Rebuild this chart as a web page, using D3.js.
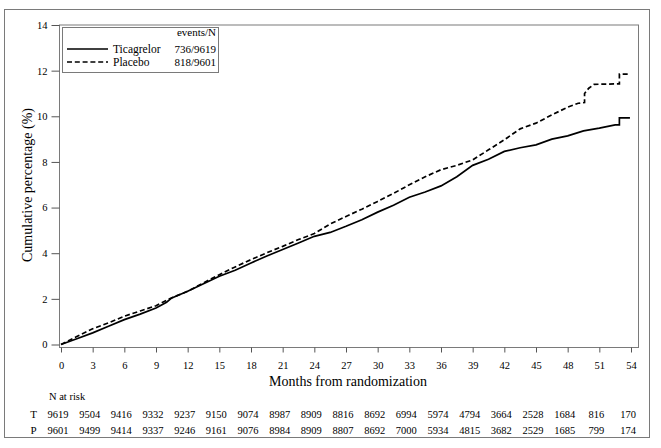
<!DOCTYPE html>
<html>
<head>
<meta charset="utf-8">
<script src="https://cdn.jsdelivr.net/npm/d3@7"></script>
<style>
  body { margin: 0; background: #fff; }
  svg { display: block; }
  text { font-family: "Liberation Serif", "Times New Roman", serif; }
</style>
</head>
<body>
<svg id="chart" width="661" height="448"></svg>
<script>
// cumulative percentage, [month, percent]
let ticagrelor = [
  [0, 0], [1.5, 0.25], [3, 0.51], [4.5, 0.8], [6, 1.09], [7.5, 1.33], [9, 1.6],
  [10, 1.85], [10.5, 2.04], [12, 2.33], [13.5, 2.66], [15, 2.99], [16.5, 3.25],
  [18, 3.57], [19.5, 3.88], [21, 4.16], [22.5, 4.45], [24, 4.74], [25.5, 4.91],
  [27, 5.18], [28.5, 5.47], [30, 5.8], [31.5, 6.1], [33, 6.45], [34.5, 6.68],
  [36, 6.95], [37.5, 7.35], [39, 7.85], [40.5, 8.12], [42, 8.46], [43.5, 8.62],
  [45, 8.75], [46.5, 9.0], [48, 9.14], [49.5, 9.36], [51, 9.48], [52.5, 9.62],
  [52.9, 9.62], [52.9, 9.93], [53.9, 9.93]
];
let placebo = [
  [0, 0], [1.5, 0.35], [3, 0.69], [4.5, 0.95], [6, 1.24], [7.5, 1.47], [9, 1.7],
  [10.5, 2.05], [12, 2.33], [13.5, 2.7], [15, 3.06], [16.5, 3.4], [18, 3.72],
  [19.5, 4.02], [21, 4.3], [22.5, 4.6], [24, 4.86], [25.5, 5.28], [27, 5.61],
  [28.5, 5.93], [30, 6.27], [31.5, 6.62], [33, 7.0], [34.5, 7.35], [36, 7.66],
  [37.5, 7.85], [39, 8.09], [40.5, 8.53], [42, 8.97], [43.5, 9.45], [45, 9.7],
  [46.5, 10.06], [48, 10.4], [49, 10.57], [49.6, 10.6], [49.6, 11.0], [50, 11.23],
  [50.5, 11.4], [52.9, 11.42], [52.9, 11.85], [53.9, 11.85]
];

let xTicks = d3.range(0, 55, 3);
let yTicks = [0, 2, 4, 6, 8, 10, 12, 14];
let riskT = [9619, 9504, 9416, 9332, 9237, 9150, 9074, 8987, 8909, 8816, 8692, 6994, 5974, 4794, 3664, 2528, 1684, 816, 170];
let riskP = [9601, 9499, 9414, 9337, 9246, 9161, 9076, 8984, 8909, 8807, 8692, 7000, 5934, 4815, 3682, 2529, 1685, 799, 174];
let legendNames = ["Ticagrelor", "Placebo"];
let legendCounts = ["736/9619", "818/9601"];

let svg = d3.select("#chart");
let font = "Liberation Serif";
let frameColor = "#7a7a7a";

let x = d3.scaleLinear().domain([0, 54]).range([61, 631]);
let y = d3.scaleLinear().domain([0, 14]).range([344.5, 25]);

// outer box
svg.append("rect")
  .attr("x", 4.5).attr("y", 9.5)
  .attr("width", 645).attr("height", 428)
  .style("fill", "none")
  .style("stroke", frameColor);

// plot frame
svg.append("rect")
  .attr("x", 59.5).attr("y", 25)
  .attr("width", 579).attr("height", 322.5)
  .style("fill", "none")
  .style("stroke", frameColor);

// x-axis
svg.append("g")
  .attr("transform", "translate(0,347.5)")
  .call(d3.axisBottom(x).tickValues(xTicks).tickSize(5).tickPadding(9))
  .attr("font-family", font)
  .attr("font-size", "10.5px")
  .call(g => g.select(".domain").remove())
  .call(g => g.selectAll("line").style("stroke", "#555"));

// y-axis
svg.append("g")
  .attr("transform", "translate(59.5,0)")
  .call(d3.axisLeft(y).tickValues(yTicks).tickSize(8).tickPadding(4))
  .attr("font-family", font)
  .attr("font-size", "10.5px")
  .call(g => g.select(".domain").remove())
  .call(g => g.selectAll("line").style("stroke", "#555"));

svg.append("text")
  .attr("x", -185)
  .attr("y", 32)
  .attr("text-anchor", "middle")
  .attr("transform", "rotate(-90)")
  .text("Cumulative percentage (%)")
  .style("font-size", "14px");

svg.append("text")
  .attr("x", 348)
  .attr("y", 386)
  .attr("text-anchor", "middle")
  .text("Months from randomization")
  .style("font-size", "14px");

// curves
let line = d3.line()
  .x(d => x(d[0]))
  .y(d => y(d[1]));

svg.append("path")
  .datum(ticagrelor)
  .attr("d", line)
  .style("fill", "none")
  .style("stroke", "#000")
  .style("stroke-width", 1.7);

svg.append("path")
  .datum(placebo)
  .attr("d", line)
  .style("fill", "none")
  .style("stroke", "#000")
  .style("stroke-width", 1.7)
  .style("stroke-dasharray", "5,2.8");

// legend
svg.append("rect")
  .attr("x", 62.5).attr("y", 27.5)
  .attr("width", 156).attr("height", 45)
  .style("fill", "#fff")
  .style("stroke", frameColor);
svg.append("text")
  .attr("x", 216).attr("y", 36)
  .attr("text-anchor", "end")
  .text("events/N")
  .style("font-size", "11px");
legendNames.forEach(function(name, i) {
  let ly = 49 + i * 13;
  svg.append("line")
    .attr("x1", 67).attr("x2", 108)
    .attr("y1", ly).attr("y2", ly)
    .style("stroke", "#000")
    .style("stroke-width", 1.7)
    .style("stroke-dasharray", i == 0 ? null : "5,2.8");
  svg.append("text")
    .attr("x", 113).attr("y", ly + 4)
    .text(name)
    .style("font-size", "11.5px");
  svg.append("text")
    .attr("x", 216).attr("y", ly + 4)
    .attr("text-anchor", "end")
    .text(legendCounts[i])
    .style("font-size", "11px");
});

// number at risk table
svg.append("text")
  .attr("x", 49).attr("y", 400)
  .text("N at risk")
  .style("font-size", "10.5px");

[["T", riskT, 418], ["P", riskP, 434]].forEach(function(row) {
  svg.append("text")
    .attr("x", 33.5).attr("y", row[2])
    .attr("text-anchor", "middle")
    .text(row[0])
    .style("font-size", "11px");
  svg.selectAll(".risk" + row[0])
    .data(row[1])
    .enter()
    .append("text")
    .attr("x", (d, i) => x(xTicks[i]) - 3)
    .attr("y", row[2])
    .attr("text-anchor", "middle")
    .text(d => d)
    .style("font-size", "10.5px");
});
</script>
</body>
</html>
